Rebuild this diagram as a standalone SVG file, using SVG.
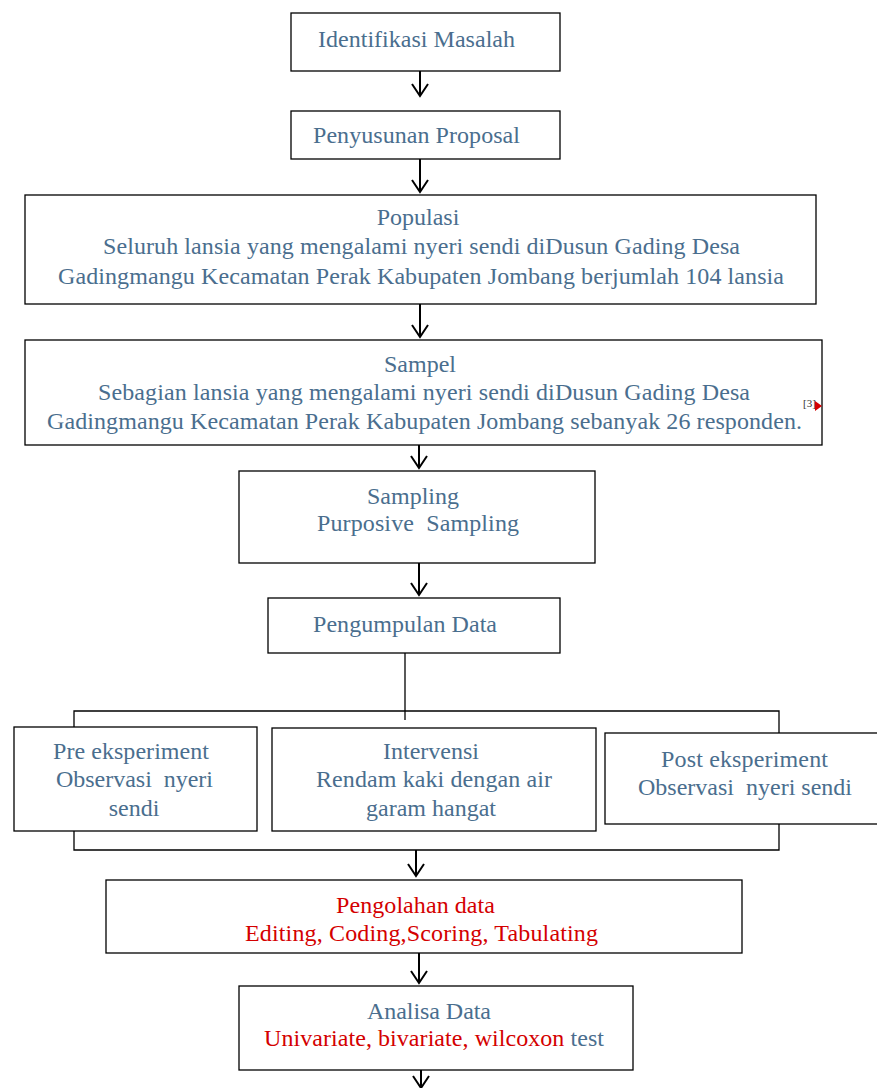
<svg xmlns="http://www.w3.org/2000/svg" width="877" height="1088" viewBox="0 0 877 1088">
<defs>
<style>
.box{fill:#fff;stroke:#000;stroke-width:1.3}
.t{font-size:24px;fill:#4a6e8e}
.c{text-anchor:middle}
.r{fill:#d40000}
.ln{stroke:#000;stroke-width:1.3;fill:none}
.ar{stroke:#000;stroke-width:2;fill:none}
</style>
</defs>
<rect width="877" height="1088" fill="#fff"/>
<g id="connectors">
<path class="ar" d="M420 71V96M412 84L420 96L428 84"/>
<path class="ar" d="M420 159V192M412 180L420 192L428 180"/>
<path class="ar" d="M420 304V337M412 325L420 337L428 325"/>
<path class="ar" d="M419 445V468M411 456L419 468L427 456"/>
<path class="ar" d="M419 563V595M411 583L419 595L427 583"/>
<path class="ln" d="M405 653V720"/>
<path class="ln" d="M74 727V711H779V733"/>
<path class="ln" d="M74 831V850H779V824"/>
<path class="ar" d="M416 850V876M408 864L416 876L424 864"/>
<path class="ar" d="M419 953V983M411 971L419 983L427 971"/>
<path class="ar" d="M421 1070V1088M413 1076L421 1088L429 1076"/>
</g>
<g font-family="'Liberation Serif','Times New Roman',serif">
<g id="n1"><rect class="box" x="291" y="13" width="269" height="58"/><text class="t" x="318" y="47" textLength="197">Identifikasi Masalah</text></g>
<g id="n2"><rect class="box" x="291" y="111" width="269" height="48"/><text class="t" x="313" y="143" textLength="207">Penyusunan Proposal</text></g>
<g id="n3"><rect class="box" x="25" y="195" width="791" height="109"/>
<text class="t c" x="418" y="225">Populasi</text>
<text class="t" x="103" y="254" textLength="637">Seluruh lansia yang mengalami nyeri sendi diDusun Gading Desa</text>
<text class="t" x="58" y="284" textLength="726">Gadingmangu Kecamatan Perak Kabupaten Jombang berjumlah 104 lansia</text></g>
<g id="n4"><rect class="box" x="25" y="340" width="797" height="105"/>
<text class="t c" x="420" y="372">Sampel</text>
<text class="t" x="98" y="400" textLength="652">Sebagian lansia yang mengalami nyeri sendi diDusun Gading Desa</text>
<text class="t" x="47" y="429" textLength="755">Gadingmangu Kecamatan Perak Kabupaten Jombang sebanyak 26 responden.</text>
<text x="803" y="407" font-size="11" fill="#333">[3]</text>
<path d="M815 401L822 406L815 411Z" fill="#d40000"/></g>
<g id="n5"><rect class="box" x="239" y="471" width="356" height="92"/>
<text class="t c" x="413" y="504">Sampling</text>
<text class="t" x="317" y="531" xml:space="preserve" textLength="202">Purposive  Sampling</text></g>
<g id="n6"><rect class="box" x="268" y="598" width="292" height="55"/><text class="t" x="313" y="632" textLength="184">Pengumpulan Data</text></g>
<g id="n7"><rect class="box" x="14" y="727" width="243" height="104"/>
<text class="t" x="53" y="759" textLength="156">Pre eksperiment</text>
<text class="t" x="56" y="787" xml:space="preserve" textLength="157">Observasi  nyeri</text>
<text class="t c" x="134" y="816">sendi</text></g>
<g id="n8"><rect class="box" x="272" y="728" width="324" height="103"/>
<text class="t c" x="431" y="759">Intervensi</text>
<text class="t" x="316" y="787" textLength="236">Rendam kaki dengan air</text>
<text class="t c" x="431" y="816">garam hangat</text></g>
<g id="n9"><rect class="box" x="605" y="733" width="280" height="91"/>
<text class="t" x="661" y="767" textLength="167">Post eksperiment</text>
<text class="t" x="638" y="795" xml:space="preserve" textLength="214">Observasi  nyeri sendi</text></g>
<g id="n10"><rect class="box" x="106" y="880" width="636" height="73"/>
<text class="t r" x="336" y="913" textLength="159">Pengolahan data</text>
<text class="t r" x="245" y="941" textLength="353">Editing, Coding,Scoring, Tabulating</text></g>
<g id="n11"><rect class="box" x="239" y="986" width="394" height="84"/>
<text class="t" x="367" y="1019" textLength="124">Analisa Data</text>
<text class="t" x="264" y="1046" textLength="340"><tspan class="r">Univariate, bivariate, wilcoxon</tspan> test</text></g>
</g>
</svg>
